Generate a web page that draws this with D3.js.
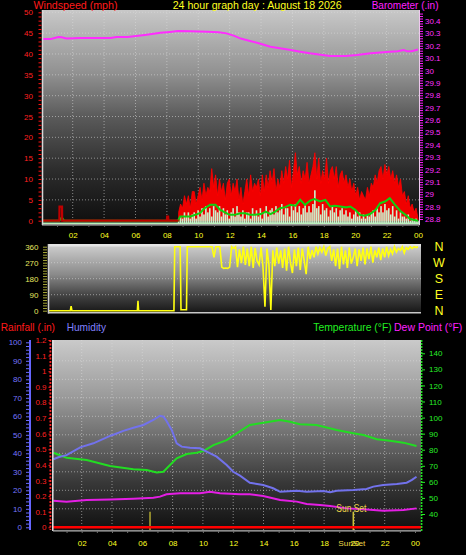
<!DOCTYPE html>
<html><head><meta charset="utf-8">
<script src="https://cdn.jsdelivr.net/npm/d3@7"></script>
<style>
html,body{margin:0;padding:0;background:#000;}
svg{display:block;}
text{font-family:"Liberation Sans",Arial,sans-serif;}
</style></head><body>
<svg id="c" width="466" height="555"></svg>
<script>
// ---------- DATA ----------
const hourTicks = [2,4,6,8,10,12,14,16,18,20,22,24];
const windTicks = [0,5,10,15,20,25,30,35,40,45,50];
const baroTicks = [28.8,28.9,29,29.1,29.2,29.3,29.4,29.5,29.6,29.7,29.8,29.9,30,30.1,30.2,30.3,30.4];
const dirTicks = [0,90,180,270,360];
const dirLetters = ["N","W","S","E","N"];
const dirLetterDeg = [360,270,180,90,0];
const humTicks = [0,10,20,30,40,50,60,70,80,90,100];
const rainTicks = [0,0.1,0.2,0.3,0.4,0.5,0.6,0.7,0.8,0.9,1,1.1,1.2];
const tempTicks = [40,50,60,70,80,90,100,110,120,130,140];

// barometer (inHg)
const baroHours = [0,0.6,1.1,1.3,1.6,2.5,3.5,4.4,4.8,5.5,6.6,7.6,8.2,8.7,9.5,10.6,11.3,11.8,12.3,12.7,13.3,13.8,14.6,15.2,15.9,16.5,17.1,17.8,18.4,19.4,20.1,21.0,21.6,22.2,22.7,23.1,23.3,23.6,24];
const baroValues = [30.255,30.255,30.27,30.268,30.258,30.262,30.262,30.262,30.27,30.27,30.287,30.305,30.312,30.319,30.318,30.314,30.31,30.30,30.28,30.258,30.238,30.222,30.192,30.18,30.166,30.152,30.139,30.128,30.117,30.117,30.125,30.139,30.145,30.152,30.155,30.166,30.155,30.155,30.17];

// early gusts (quiet night)
const gustEarlyHours = [0,1.15,1.16,1.32,1.33,8.0,8.02,8.08,8.1,8.75];
const gustEarlyValues = [0,0,3.4,3.4,0,0,1.0,1.0,0,0];
// gusts 8.75h .. 24h, evenly spaced samples
const gustStart = 8.75, gustEnd = 24;
const gustValues = [
 2,4,3,6,  4,6,3,7,  7,4,6,8,  5,9,6,8,  7,12.5,8,11,  6,10,7,9,  5,9,10,6,
 9,7,10,5,  8,4,7,10,  6,11,7,9,  8,10,6,11,  7,11,8,12,  9,12.5,7,10,
 8,12,9,13,  10,14.5,8,12,  16.3,11,13,9,  12,10,14,9,  11,13,16.3,10,
 15,9,12,10,  15,9,12,13,  10,13,8,11,  12,9,11,8,  10,7,9,6,  8,5,7,6,
 5,8,6,9,  8,11,9,12,  13,10,13.5,11,  13,10,12,9,  11,8,10,6,  7,4,6,3,  4,2,3,0.5];
const speedValues = [
 0,1,0.5,2,  1,2,0.5,1.5,  2,0.5,2.5,1,  3,1.5,3.5,2,  3,1,3.5,2.5,  2,3.5,1,3,
 1.5,2.5,0.5,2,  3,1,3.5,2,  1,2.5,0.5,2,  2,0.5,3,1.5,  2.5,1,3,0.5,  2,3.5,1,2.5,
 3,1.5,3.5,2,  2.5,4,1.5,3,  3,1,3.5,2.5,  4,2,3.5,1.5,  3,4,2,3.5,  2,4,7.3,3,
 3.5,1.5,4,2.5,  3,1,2.5,3.5,  2,3,1,2.5,  3,1.5,2.5,1,  2,0.5,1.5,2.5,  1,2,0.5,1.5,
 0.5,1.5,1,2,  2.5,1,3,2,  3.5,2,4,2.5,  3,1.5,3.5,1,  2.5,0.5,2,1,  1,0.5,1.5,0,  0.5,0,0.5,0];
// average wind
const avgHours = [0,1.15,1.3,1.45,8.7,8.85,9.5,10.1,10.4,10.76,11.1,11.4,11.7,12.0,12.3,12.7,13.0,13.3,13.6,14.0,14.3,14.6,14.9,15.2,15.5,15.86,16.2,16.5,16.8,17.13,17.4,17.77,18.1,18.4,18.7,19.04,19.4,19.68,20.0,20.3,20.6,20.95,21.3,21.59,21.9,22.2,22.5,22.86,23.2,23.5,24];
const avgValues = [0,0,0.8,0,0,1.0,1.0,1.8,3.0,3.8,3.8,2.6,2.0,1.4,1.4,1.8,1.8,1.4,1.4,1.6,2.2,1.6,2.2,3.0,3.2,3.8,3.6,5.0,3.8,4.8,5.2,4.6,5.0,3.4,3.6,3.4,3.2,3.4,2.6,1.4,1.2,1.6,2.6,4.2,4.6,5.4,4.0,2.4,1.4,0.4,0];

// wind direction (degrees)
const dirEarlyHours = [0,1.85,1.9,1.95,6.12,6.16,6.2,8.45,8.5,8.85,8.9,9.25,9.3];
const dirEarlyValues = [0,0,26,0,0,55,0,0,360,360,5,5,360];
const dirStart = 9.375, dirEnd = 24;
const dirValues = [
 360,360,360,360,360,360,360,360,
 360,360,360,360,360,300,360,360,
 360,245,238,240,238,245,360,350,
 360,245,345,268,360,258,350,250,
 360,240,352,280,258,356,245,22,
 350,262,4,340,250,355,265,340,
 240,350,225,360,270,212,345,250,
 355,230,350,282,205,360,290,340,
 300,360,320,355,330,360,310,350,
 360,280,345,250,350,235,360,260,
 340,240,355,265,300,350,250,345,
 280,355,260,350,290,360,270,340,
 300,355,285,350,300,360,310,345,
 320,360,330,350,340,360,325,355,
 345,360,350,360,355,360];

// bottom panel
const humHours = [0.13,0.5,1.0,1.9,2.77,3.87,4.09,4.75,5.41,6.07,6.73,7.17,7.4,7.6,7.94,8.27,8.6,9.15,9.81,10.25,10.91,11.57,12.0,12.45,13.1,13.98,14.64,15.1,16.2,16.85,17.95,18.4,18.83,19.93,20.8,21.25,21.9,22.8,23.45,23.8,24.1];
const humValues = [36.8,38,39,43.2,45.4,49.4,50,52.1,53.8,55.3,58,60.3,59.8,57.5,52.6,45.4,43.6,43,42.7,40.9,38.2,33.7,30,27.9,24.1,22.9,21.1,19.2,19.8,19.2,19.6,18.9,19.8,20.2,20.7,22,22.9,23.4,24.1,25.6,27.3];
const tempHours = [0.13,1.0,2.33,3.87,5.41,6.29,6.95,7.39,7.83,8.27,8.93,9.59,10.03,10.69,11.57,12.23,13.1,14.2,15.1,15.75,16.4,17.5,18.83,19.93,20.6,21.48,22.35,23.23,24.1];
const tempValues = [78.1,75,73.6,69.9,67.8,67.4,65.9,66.3,70.5,74.7,77.3,78.1,79.2,82.9,86,90.2,95.4,97.1,98.5,97.4,95.8,95.4,92.3,90.2,89.2,86.5,85.6,84.4,82.3];
const dewHours = [0.13,1.0,2.33,3.87,5.41,6.73,7.17,7.6,8.49,9.81,10.47,11.13,12.45,13.1,13.98,15.1,16.2,16.85,17.73,18.4,19.5,20.6,21.9,23.23,24.1];
const dewValues = [48.3,47.7,48.7,49.1,49.5,50.1,50.8,52.3,52.9,52.9,53.9,52.9,52.3,52.3,51.2,48.7,47.7,46.2,45.6,45,43.5,42.9,42.1,42.5,43.5];
const rainHours = [0,24.4];
const rainValues = [0,0];
const sunHours = [6.51,19.93];
const sunNames = ["Sun Rise","Sun Set"];

// ---------- SCALES ----------
const svg = d3.select("#c");
const xTop = d3.scaleLinear().domain([0,24]).range([41.3,418]);
const yWind = d3.scaleLinear().domain([0,50]).range([220.7,12.3]);
const yBaro = d3.scaleLinear().domain([28.8,30.4]).range([219,21]);
const yDir = d3.scaleLinear().domain([0,360]).range([310.7,246.7]);
const xBot = d3.scaleLinear().domain([0,24]).range([51.4,415]);
const yHum = d3.scaleLinear().domain([0,100]).range([527.3,342.3]);
const yRain = d3.scaleLinear().domain([0,1.2]).range([527.3,340]);
const yTemp = d3.scaleLinear().domain([40,140]).range([514,353.3]);

const P1 = {x:43,y:10,w:376,h:214};
const P2 = {x:48,y:244,w:373,h:68};
const P3 = {x:53,y:340,w:368,h:190};

// ---------- DEFS ----------
const defs = svg.append("defs");
function grad(id, stops){
  const g = defs.append("linearGradient").attr("id",id).attr("x1",0).attr("y1",0).attr("x2",0).attr("y2",1);
  stops.forEach(s=>g.append("stop").attr("offset",s[0]).attr("stop-color",s[1]));
}
grad("gTop",[[0,"#c8c8c8"],[0.3,"#909090"],[0.5,"#5a5a5a"],[0.75,"#2c2c2c"],[1,"#0e0e0e"]]);
grad("gDir",[[0,"#d0d0d0"],[0.45,"#8a8a8a"],[0.75,"#444"],[1,"#181818"]]);
grad("gBot",[[0,"#cacaca"],[0.3,"#9a9a9a"],[0.5,"#707070"],[0.75,"#383838"],[1,"#101010"]]);
function clip(id,p){ defs.append("clipPath").attr("id",id).append("rect").attr("x",p.x).attr("y",p.y).attr("width",p.w).attr("height",p.h); }
clip("c1",P1); clip("c2",P2); clip("c3",P3);

svg.append("rect").attr("width",466).attr("height",555).attr("fill","#000");
[[P1,"gTop"],[P2,"gDir"],[P3,"gBot"]].forEach(([p,g])=>
  svg.append("rect").attr("x",p.x).attr("y",p.y).attr("width",p.w).attr("height",p.h).attr("fill",`url(#${g})`));

function styleAxis(g, color, size){
  g.select(".domain").remove();
  g.selectAll("text").attr("fill",color).attr("font-size",size||8).attr("font-family","Liberation Sans, Arial, sans-serif");
  g.selectAll("line").attr("stroke",color);
  return g;
}
const hourFmt = d => String(d%24).padStart(2,"0");
const gridStyle = s => s.attr("stroke","#dcdcdc").attr("stroke-opacity",0.55).attr("stroke-dasharray","1,2").attr("stroke-width",1);

// ---------- TOP PANEL ----------
const g1 = svg.append("g").attr("clip-path","url(#c1)");
g1.selectAll(".hg").data(windTicks.slice(1)).enter().append("line")
  .attr("x1",P1.x).attr("x2",P1.x+P1.w).attr("y1",d=>yWind(d)).attr("y2",d=>yWind(d)).call(gridStyle);
g1.selectAll(".vg").data(hourTicks.slice(0,-1)).enter().append("line")
  .attr("y1",P1.y).attr("y2",P1.y+P1.h).attr("x1",d=>xTop(d)).attr("x2",d=>xTop(d)).call(gridStyle);

// barometer
g1.append("path").datum(d3.zip(baroHours,baroValues))
  .attr("d",d3.line().x(d=>xTop(d[0])).y(d=>yBaro(d[1])))
  .attr("fill","none").attr("stroke","#ff2cff").attr("stroke-width",2);

const gustStep = (gustEnd-gustStart)/(gustValues.length-1);
const gustData = gustValues.map((v,i)=>[gustStart+i*gustStep,v]);
const speedData = speedValues.map((v,i)=>[gustStart+i*gustStep,v]);
// baseline light green
g1.append("line").attr("x1",P1.x).attr("x2",P1.x+P1.w).attr("y1",223.2).attr("y2",223.2)
  .attr("stroke","#b8f0b8").attr("stroke-width",1.6);
// gust area
g1.append("path").datum(gustData)
  .attr("d",d3.area().x(d=>xTop(d[0])).y0(yWind(0)).y1(d=>yWind(d[1])))
  .attr("fill","#f00000").attr("stroke","#ff0000").attr("stroke-width",0.8);
// speed bars
g1.selectAll(".sp").data(speedData).enter().append("rect")
  .attr("x",d=>xTop(d[0])-0.8).attr("width",1.6)
  .attr("y",d=>yWind(d[1])).attr("height",d=>Math.max(0,yWind(0)-yWind(d[1])+2.5))
  .attr("fill","#cdf2cd");
// avg line
g1.append("path").datum(d3.zip(avgHours,avgValues))
  .attr("d",d3.line().x(d=>xTop(d[0])).y(d=>yWind(d[1])))
  .attr("fill","none").attr("stroke","#10d010").attr("stroke-width",2);
// early gust line
g1.append("path").datum(d3.zip(gustEarlyHours,gustEarlyValues))
  .attr("d",d3.line().x(d=>xTop(d[0])).y(d=>yWind(d[1])))
  .attr("fill","none").attr("stroke","#c00000").attr("stroke-width",2.2);

// borders top
svg.append("line").attr("x1",42.5).attr("x2",42.5).attr("y1",P1.y).attr("y2",225).attr("stroke","#d8d8d8").attr("stroke-width",1.5);
svg.append("line").attr("x1",42).attr("x2",419.5).attr("y1",224.8).attr("y2",224.8).attr("stroke","#c8c8c8").attr("stroke-width",1.2);
svg.append("line").attr("x1",419.5).attr("x2",419.5).attr("y1",P1.y).attr("y2",225).attr("stroke","#f0c8f0").attr("stroke-width",1);

// axes top
styleAxis(svg.append("g").attr("transform","translate(41.5,0)")
  .call(d3.axisLeft(yWind).tickValues(d3.range(0,51,1)).tickSize(3).tickFormat("")),"#ff1010");
styleAxis(svg.append("g").attr("transform","translate(41,0)")
  .call(d3.axisLeft(yWind).tickValues(windTicks).tickSize(0).tickPadding(8)),"#ff2020");
styleAxis(svg.append("g").attr("transform","translate(420,0)")
  .call(d3.axisRight(yBaro).tickValues(d3.range(1440,1524,1).map(d=>d/50)).tickSize(3).tickFormat("")),"#ff20ff");
styleAxis(svg.append("g").attr("transform","translate(420,0)")
  .call(d3.axisRight(yBaro).tickValues(baroTicks).tickSize(0).tickPadding(5).tickFormat(d=>String(+d.toFixed(1)))),"#ff30ff");
styleAxis(svg.append("g").attr("transform","translate(0,225)")
  .call(d3.axisBottom(xTop).tickValues(d3.range(1,25,1)).tickSize(2).tickFormat("")),"#606060");
styleAxis(svg.append("g").attr("transform","translate(0,224)")
  .call(d3.axisBottom(xTop).tickValues(hourTicks).tickSize(0).tickPadding(8.7).tickFormat(hourFmt)),"#ffff20");

// titles top
function title(txt,x,x2,y,color){
  svg.append("text").attr("x",x).attr("y",y).attr("fill",color).attr("font-size",11)
    .attr("textLength",x2-x).attr("lengthAdjust","spacingAndGlyphs").text(txt);
}
title("Windspeed (mph)",33.5,117.5,9,"#ff1a1a");
title("24 hour graph day : August 18 2026",172.7,341.7,9,"#ffff20");
title("Barometer (.in)",371.7,438.5,9,"#ff20ff");

// ---------- WIND DIRECTION PANEL ----------
const g2 = svg.append("g").attr("clip-path","url(#c2)");
g2.selectAll(".dg").data(dirTicks.slice(1,-1)).enter().append("line")
  .attr("x1",P2.x).attr("x2",P2.x+P2.w).attr("y1",d=>yDir(d)).attr("y2",d=>yDir(d)).call(gridStyle);
g2.append("rect").attr("x",P2.x).attr("y",P2.y).attr("width",P2.w).attr("height",2.5).attr("fill","#e4e4e4");
const dirStep = (dirEnd-dirStart)/(dirValues.length-1);
const dirData = d3.zip(dirEarlyHours,dirEarlyValues).concat(dirValues.map((v,i)=>[dirStart+i*dirStep,v]));
g2.append("path").datum(dirData)
  .attr("d",d3.line().x(d=>xTop(d[0])).y(d=>yDir(d[1])))
  .attr("fill","none").attr("stroke","#ffff10").attr("stroke-width",1.6);
svg.append("line").attr("x1",48.5).attr("x2",48.5).attr("y1",P2.y).attr("y2",313.5).attr("stroke","#d0d0d0").attr("stroke-width",1.6);
svg.append("line").attr("x1",48).attr("x2",421).attr("y1",312.8).attr("y2",312.8).attr("stroke","#c8c8c8").attr("stroke-width",1.5);
styleAxis(svg.append("g").attr("transform","translate(47,0)")
  .call(d3.axisLeft(yDir).tickValues(d3.range(0,361,15)).tickSize(4).tickFormat("")),"#a8a838");
styleAxis(svg.append("g").attr("transform","translate(48,0)")
  .call(d3.axisLeft(yDir).tickValues(dirTicks).tickSize(0).tickPadding(9.5)),"#e6e660");
svg.selectAll(".dl").data(dirLetters).enter().append("text")
  .attr("x",439).attr("y",(d,i)=>yDir(dirLetterDeg[i])+4.6).attr("text-anchor","middle")
  .attr("fill","#ffff20").attr("font-size",12.5).text(d=>d);

// ---------- BOTTOM PANEL ----------
const g3 = svg.append("g").attr("clip-path","url(#c3)");
g3.selectAll(".hg").data(humTicks.slice(1,-1)).enter().append("line")
  .attr("x1",P3.x).attr("x2",P3.x+P3.w).attr("y1",d=>yHum(d)).attr("y2",d=>yHum(d)).call(gridStyle);
g3.selectAll(".vg").data(hourTicks.slice(0,-1)).enter().append("line")
  .attr("y1",P3.y).attr("y2",P3.y+P3.h).attr("x1",d=>xBot(d)).attr("x2",d=>xBot(d)).call(gridStyle);
const lineB = y => d3.line().x(d=>xBot(d[0])).y(d=>y(d[1]));
g3.append("path").datum(d3.zip(tempHours,tempValues)).attr("d",lineB(yTemp))
  .attr("fill","none").attr("stroke","#22dd22").attr("stroke-width",2);
g3.append("path").datum(d3.zip(humHours,humValues)).attr("d",lineB(yHum))
  .attr("fill","none").attr("stroke","#7272ec").attr("stroke-width",2);
g3.append("path").datum(d3.zip(dewHours,dewValues)).attr("d",lineB(yTemp))
  .attr("fill","none").attr("stroke","#e41ee4").attr("stroke-width",2);
g3.selectAll(".sun").data(sunHours).enter().append("line")
  .attr("x1",d=>xBot(d)).attr("x2",d=>xBot(d)).attr("y1",yRain(0.1)).attr("y2",P3.y+P3.h)
  .attr("stroke",(d,i)=>i===0?"#a8a030":"#d0c438").attr("stroke-width",1.6);
g3.append("path").datum(d3.zip(rainHours,rainValues)).attr("d",lineB(yRain))
  .attr("fill","none").attr("stroke","#ff0000").attr("stroke-width",2.6);
svg.append("text").attr("x",xBot(sunHours[1])-17).attr("y",512).attr("fill","#ecd448").attr("font-size",10)
  .attr("textLength",30).attr("lengthAdjust","spacingAndGlyphs").text(sunNames[1]);

// borders bottom
svg.append("line").attr("x1",52.8).attr("x2",52.8).attr("y1",P3.y).attr("y2",531).attr("stroke","#f0f0f0").attr("stroke-width",1.4);
svg.append("line").attr("x1",53).attr("x2",421).attr("y1",530.8).attr("y2",530.8).attr("stroke","#b8b8b8").attr("stroke-width",1.2);
svg.append("line").attr("x1",30).attr("x2",30).attr("y1",P3.y).attr("y2",530).attr("stroke","#6666ff").attr("stroke-width",2);
svg.append("line").attr("x1",50.4).attr("x2",50.4).attr("y1",P3.y).attr("y2",530).attr("stroke","#ff2020").attr("stroke-width",1.8).attr("stroke-dasharray","2,1.5");
svg.append("line").attr("x1",421.6).attr("x2",421.6).attr("y1",P3.y).attr("y2",531).attr("stroke","#20e020").attr("stroke-width",1.6).attr("stroke-dasharray","2,1");

styleAxis(svg.append("g").attr("transform","translate(29,0)")
  .call(d3.axisLeft(yHum).tickValues(d3.range(0,101,2)).tickSize(3).tickFormat("")),"#6a6aff");
styleAxis(svg.append("g").attr("transform","translate(30,0)")
  .call(d3.axisLeft(yHum).tickValues(humTicks).tickSize(0).tickPadding(8)),"#7676ff");
styleAxis(svg.append("g").attr("transform","translate(50.5,0)")
  .call(d3.axisLeft(yRain).tickValues(rainTicks).tickSize(2).tickPadding(2).tickFormat(d=>String(+d.toFixed(1)))),"#ff2020");
styleAxis(svg.append("g").attr("transform","translate(422,0)")
  .call(d3.axisRight(yTemp).tickValues(tempTicks).tickSize(3).tickPadding(4)),"#28ee28");
styleAxis(svg.append("g").attr("transform","translate(0,531)")
  .call(d3.axisBottom(xBot).tickValues(d3.range(1,25,1)).tickSize(2).tickFormat("")),"#707070");
styleAxis(svg.append("g").attr("transform","translate(0,530)")
  .call(d3.axisBottom(xBot).tickValues(hourTicks).tickSize(0).tickPadding(10).tickFormat(hourFmt)),"#ffff20");
svg.append("text").attr("x",xBot(sunHours[1])-1.5).attr("y",545.5).attr("text-anchor","middle")
  .attr("fill","#ecd448").attr("font-size",8).attr("textLength",27).attr("lengthAdjust","spacingAndGlyphs").text("SunSet");

title("Rainfall (.in)",0.7,55,331,"#ff1a1a");
title("Humidity",66.7,106,331,"#8080ff");
title("Temperature (°F)",313.3,391.7,331,"#22ee22");
title("Dew Point (°F)",394,462.3,331,"#ff20ff");
</script></body></html>
